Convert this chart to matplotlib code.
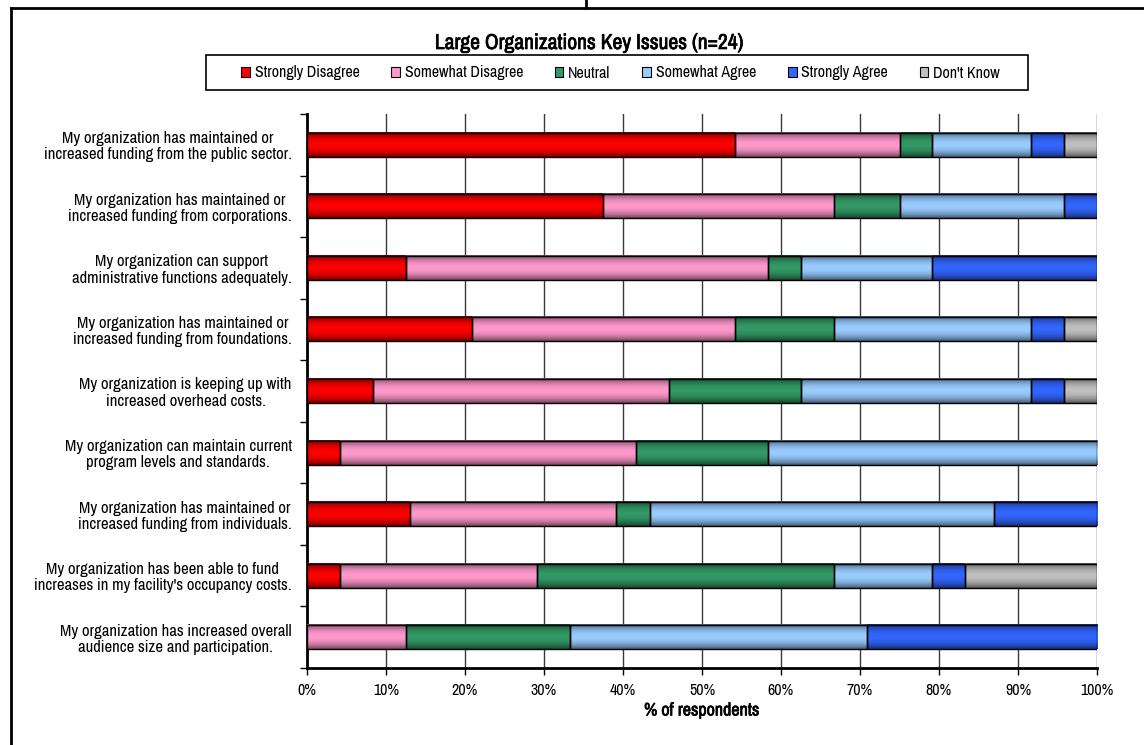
import numpy as np
import matplotlib
matplotlib.use("Agg")
import matplotlib.pyplot as plt
import matplotlib.patheffects as pe
from matplotlib.patches import Patch, Rectangle
from matplotlib.lines import Line2D
from matplotlib.colors import to_rgb

plt.rcParams["font.family"] = ["Archivo Narrow", "Liberation Sans", "DejaVu Sans"]

# Survey statements, listed top to bottom
statements = [
    "My organization has maintained or\nincreased funding from the public sector.",
    "My organization has maintained or\nincreased funding from corporations.",
    "My organization can support\nadministrative functions adequately.",
    "My organization has maintained or\nincreased funding from foundations.",
    "My organization is keeping up with\nincreased overhead costs.",
    "My organization can maintain current\nprogram levels and standards.",
    "My organization has maintained or\nincreased funding from individuals.",
    "My organization has been able to fund\nincreases in my facility's occupancy costs.",
    "My organization has increased overall\naudience size and participation.",
]

# Share of respondents (%) per answer, one value per statement
strongly_disagree = [54.17, 37.50, 12.50, 20.83, 8.33, 4.17, 13.04, 4.17, 0.00]
somewhat_disagree = [20.83, 29.17, 45.83, 33.33, 37.50, 37.50, 26.09, 25.00, 12.50]
neutral = [4.17, 8.33, 4.17, 12.50, 16.67, 16.67, 4.35, 37.50, 20.83]
somewhat_agree = [12.50, 20.83, 16.67, 25.00, 29.17, 41.67, 43.48, 12.50, 37.50]
strongly_agree = [4.17, 4.17, 20.83, 4.17, 4.17, 0.00, 13.04, 4.17, 29.17]
dont_know = [4.17, 0.00, 0.00, 4.17, 4.17, 0.00, 0.00, 16.67, 0.00]

answers = ["Strongly Disagree", "Somewhat Disagree", "Neutral",
           "Somewhat Agree", "Strongly Agree", "Don't Know"]
series = [strongly_disagree, somewhat_disagree, neutral,
          somewhat_agree, strongly_agree, dont_know]
colors = ["#FF0000", "#FF99CC", "#339966", "#99CCFF", "#3366FF", "#C0C0C0"]

x_ticks = np.arange(0, 101, 10)
x_ticklabels = [f"{v}%" for v in x_ticks]

# the narrow face has no bold cut, so bold text gets a thin outline
def heavy(width):
    return [pe.withStroke(linewidth=width, foreground="black")]

fig = plt.figure(figsize=(11.44, 7.45), dpi=100)
ax = fig.add_axes([307 / 1144, 77 / 745, 790 / 1144, 554 / 745])

ypos = np.arange(len(statements))
left = np.zeros(len(statements))
bar_patches = []
for vals, col in zip(series, colors):
    vals = np.asarray(vals, dtype=float)
    bars = ax.barh(ypos, vals, left=left, height=0.39, color=col,
                   edgecolor="black", linewidth=1.0, zorder=3)
    bar_patches.extend(bars.patches)
    left += vals

# Cylinder-like vertical shading inside each bar segment
t = np.linspace(0, 1, 64)
shade = 1.0 - 0.55 * np.abs(2 * t - 1) ** 2.0
for p in bar_patches:
    w = p.get_width()
    if w <= 0:
        p.set_visible(False)
        continue
    rgb = np.array(to_rgb(p.get_facecolor()))
    img = shade[:, None, None] * rgb[None, None, :]
    x0, y0, h = p.get_x(), p.get_y(), p.get_height()
    ax.imshow(img, extent=(x0, x0 + w, y0, y0 + h), aspect="auto",
              origin="lower", interpolation="bilinear", zorder=2.9)
    p.set_facecolor("none")

ax.set_xlim(0, 100)
ax.set_ylim(len(statements) - 0.5, -0.5)
ax.set_aspect("auto")

# x axis
ax.set_xticks(x_ticks)
ax.set_xticklabels(x_ticklabels, fontsize=11.5)
ax.tick_params(axis="x", length=5, width=1, direction="out", pad=6)
ax.set_xlabel("% of respondents", fontsize=13, labelpad=3,
              path_effects=heavy(0.5))
ax.xaxis.grid(True, color="#383838", linewidth=1.0, zorder=1)
ax.set_axisbelow(True)

# y axis: tick marks between categories, labels at category centres
ax.set_yticks(np.arange(-0.5, len(statements), 1.0))
ax.set_yticklabels([])
ax.tick_params(axis="y", which="major", length=5, width=1, direction="out")
ax.set_yticks(ypos, minor=True)
ax.set_yticklabels(statements, minor=True, fontsize=12, multialignment="center",
                   linespacing=1.1)
ax.tick_params(axis="y", which="minor", length=0, pad=11)

for side in ("top", "right"):
    ax.spines[side].set_visible(False)
for side in ("left", "bottom"):
    ax.spines[side].set_linewidth(2.0)
    ax.spines[side].set_color("black")

# Title
fig.text(589 / 1144, 1 - 43 / 745, "Large Organizations Key Issues (n=24)",
         ha="center", va="center", fontsize=15.5, path_effects=heavy(0.5))

# Legend in a framed box
handles = [Patch(facecolor=c, edgecolor="black", linewidth=0.8) for c in colors]
leg = fig.legend(handles, answers, loc="center left", ncol=6, mode="expand",
                 bbox_to_anchor=(241 / 1144, 1 - 73 / 745, 759 / 1144, 0),
                 frameon=False, fontsize=11.5, handlelength=0.55, handleheight=0.55,
                 handletextpad=0.3, borderpad=0, borderaxespad=0)
fig.add_artist(Rectangle((206 / 1144, 1 - 90 / 745), 822 / 1144, 35 / 745,
                         transform=fig.transFigure, fill=False,
                         edgecolor="black", linewidth=1.2))

# Outer chart frame
fig.add_artist(Line2D([11 / 1144, 1], [1 - 7.5 / 745, 1 - 7.5 / 745],
                      transform=fig.transFigure, color="black", linewidth=2))
fig.add_artist(Line2D([11 / 1144, 11 / 1144], [0, 1 - 7.5 / 745],
                      transform=fig.transFigure, color="black", linewidth=2))
fig.add_artist(Line2D([586 / 1144, 586 / 1144], [1 - 7.5 / 745, 1],
                      transform=fig.transFigure, color="black", linewidth=2))

fig.savefig("out.png", dpi=100, facecolor="white")
